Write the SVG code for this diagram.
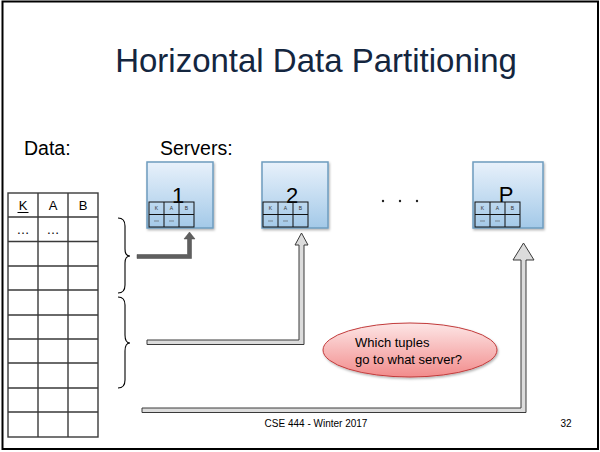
<svg xmlns="http://www.w3.org/2000/svg" width="600" height="452" viewBox="0 0 600 452">
  <defs>
    <linearGradient id="srvFill" x1="0" y1="0" x2="0" y2="1">
      <stop offset="0" stop-color="#e8f1fb"/>
      <stop offset="1" stop-color="#a3c9e8"/>
    </linearGradient>
    <linearGradient id="bubbleFill" x1="0" y1="0" x2="0" y2="1">
      <stop offset="0" stop-color="#fde6e6"/>
      <stop offset="1" stop-color="#f28c8c"/>
    </linearGradient>
    <filter id="shadow" x="-20%" y="-20%" width="140%" height="140%">
      <feDropShadow dx="1" dy="1.5" stdDeviation="1" flood-color="#000" flood-opacity="0.3"/>
    </filter>
  </defs>
  <style>
    text { font-family: "Liberation Sans", Arial, sans-serif; fill: #000; }
    .title { font-size: 33px; fill: #14263f; }
    .label { font-size: 19.5px; }
    .grid { stroke: #3a3a3a; stroke-width: 1.4; fill: none; }
    .cell { font-size: 13px; text-anchor: middle; }
    .brace { stroke: #000; stroke-width: 1.1; fill: none; }
    .server { fill: url(#srvFill); stroke: #6d9cbf; stroke-width: 1.5; filter: url(#shadow); }
    .num { font-size: 22px; text-anchor: middle; }
    .mini { stroke: #111; stroke-width: 1; fill: none; }
    .minitxt { font-size: 5px; text-anchor: middle; fill: #333; }
    .dash { stroke: #555; stroke-width: 0.6; }
    .dot { fill: #222; }
    .hollow { fill: #dcdcdc; stroke: #3a3a3a; stroke-width: 1; stroke-linejoin: miter; }
    .solid { fill: #5f5f5f; stroke: #4a4a4a; stroke-width: 0.5; }
    .bubble { fill: url(#bubbleFill); stroke: #c23b3b; stroke-width: 1; filter: url(#shadow); }
    .btxt { font-size: 13px; }
    .foot { font-size: 10px; }
  </style>

  <!-- slide frame -->
  <rect x="2.5" y="1.5" width="595.5" height="447.5" fill="#fff" stroke="#000" stroke-width="2"/>

  <text class="title" x="316" y="72" text-anchor="middle">Horizontal Data Partitioning</text>
  <text class="label" x="24" y="155">Data:</text>
  <text class="label" x="160" y="155">Servers:</text>

  <!-- data table: 3 columns, header + 10 rows -->
  <g id="data-table">
    <rect class="grid" x="8" y="193" width="90" height="244"/>
    <path class="grid" d="M38 193V437M68 193V437
      M8 217H98M8 241.5H98M8 266H98M8 290H98M8 315H98M8 339H98M8 363H98M8 388H98M8 412H98"/>
    <text class="cell" x="23" y="210">K</text>
    <line x1="17.5" y1="212.5" x2="28.5" y2="212.5" stroke="#000" stroke-width="1"/>
    <text class="cell" x="53" y="210">A</text>
    <text class="cell" x="83" y="210">B</text>
    <text class="cell" x="23" y="234">…</text>
    <text class="cell" x="53" y="234">…</text>
  </g>

  <!-- partition braces -->
  <g id="braces">
    <path class="brace" d="M118 218Q125 218 125 226V249Q125 256 130 256Q125 256 125 263V285Q125 293 118 293"/>
    <path class="brace" d="M118 297Q125 297 125 305V335Q125 343 130 343Q125 343 125 351V380Q125 388 118 388"/>
  </g>

  <!-- server 1 -->
  <g id="server-1">
    <rect class="server" x="147" y="162" width="66" height="66"/>
    <text class="num" x="178" y="203">1</text>
    <rect class="mini" x="149" y="202" width="45" height="25"/>
    <path class="mini" d="M164 202V227M179 202V227M149 214.5H194"/>
    <text class="minitxt" x="156.5" y="210">K</text>
    <text class="minitxt" x="171.5" y="210">A</text>
    <text class="minitxt" x="186.5" y="210">B</text>
    <path class="dash" d="M154 221H159M169 221H174"/>
  </g>

  <!-- server 2 -->
  <g id="server-2">
    <rect class="server" x="262" y="162" width="66" height="66"/>
    <text class="num" x="292" y="203">2</text>
    <rect class="mini" x="263" y="202" width="45" height="25"/>
    <path class="mini" d="M278 202V227M293 202V227M263 214.5H308"/>
    <text class="minitxt" x="270.5" y="210">K</text>
    <text class="minitxt" x="285.5" y="210">A</text>
    <text class="minitxt" x="300.5" y="210">B</text>
    <path class="dash" d="M268 221H273M283 221H288"/>
  </g>

  <!-- ellipsis between servers -->
  <g id="more-servers">
    <circle class="dot" cx="383" cy="201" r="1.2"/>
    <circle class="dot" cx="400" cy="201" r="1.2"/>
    <circle class="dot" cx="417" cy="201" r="1.2"/>
  </g>

  <!-- server P -->
  <g id="server-p">
    <rect class="server" x="473" y="162" width="70" height="66"/>
    <text class="num" x="506" y="202">P</text>
    <rect class="mini" x="475" y="202" width="45" height="25"/>
    <path class="mini" d="M490 202V227M505 202V227M475 214.5H520"/>
    <text class="minitxt" x="482.5" y="210">K</text>
    <text class="minitxt" x="497.5" y="210">A</text>
    <text class="minitxt" x="512.5" y="210">B</text>
    <path class="dash" d="M480 221H485M495 221H500"/>
  </g>

  <!-- routing arrows -->
  <g id="connectors">
    <path class="solid" d="M137 254.5H187.5V239H184L189.5 232L195 239H191.5V258.5H137Z"/>
    <path class="hollow" d="M147 340H299V245H295L301.5 233L308 245H304V344.5H147Z"/>
    <path class="hollow" d="M142 408H521V260H513L523.5 243L534 260H526V412.5H142Z"/>
  </g>

  <!-- question bubble -->
  <g id="question">
    <ellipse class="bubble" cx="410" cy="350" rx="87" ry="27"/>
    <text class="btxt" x="355" y="347">Which tuples</text>
    <text class="btxt" x="355" y="364">go to what server?</text>
  </g>

  <text class="foot" x="316" y="427" text-anchor="middle">CSE 444 - Winter 2017</text>
  <text class="foot" x="566" y="427" text-anchor="middle">32</text>
</svg>
